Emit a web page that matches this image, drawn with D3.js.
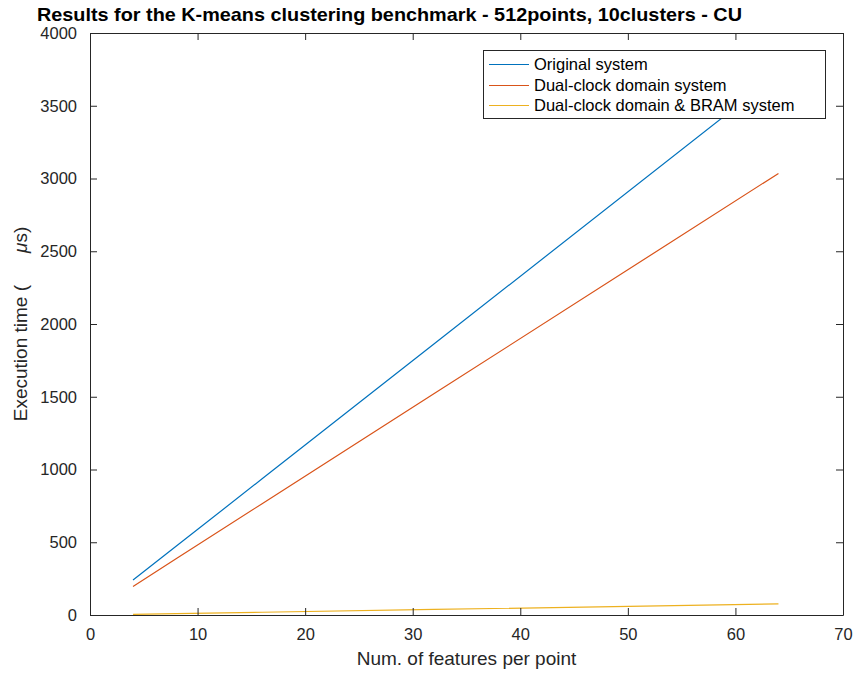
<!DOCTYPE html>
<html><head><meta charset="utf-8">
<script src="https://cdn.jsdelivr.net/npm/d3@7"></script>
<style>body{margin:0;background:#fff}svg{display:block}text{font-family:"Liberation Sans",Arial,sans-serif}</style>
</head><body>
<svg id="c" width="856" height="675"></svg>
<script>
const features = [4, 8, 16, 32, 64];
const originalSys = [240, 472, 936, 1864, 3720];
const dualClockSys = [196, 386, 765, 1522, 3035];
const dualBramSys = [4, 9, 19, 38, 76];
const seriesNames = ["Original system", "Dual-clock domain system", "Dual-clock domain & BRAM system"];
const xTicks = [0, 10, 20, 30, 40, 50, 60, 70];
const yTicks = [0, 500, 1000, 1500, 2000, 2500, 3000, 3500, 4000];
const colors = ["#0072BD", "#D95319", "#EDB120"];

const svg = d3.select("#c");
const L = 90, R = 843, T = 33, B = 615;
const x = d3.scaleLinear().domain([0, 70]).range([L, R]);
const y = d3.scaleLinear().domain([0, 4000]).range([B, T]);
const axisCol = "#262626";

const allSeries = [originalSys, dualClockSys, dualBramSys];
const line = d3.line().x((d, i) => x(features[i])).y(d => y(d));
const g = svg.append("g");
allSeries.forEach((s, k) => {
  g.append("path").datum(s).attr("d", line).attr("fill", "none")
    .attr("stroke", colors[k]).attr("stroke-width", 1.2);
});

const tk = 7;
const axB = svg.append("g").attr("transform", `translate(0,${B})`)
  .call(d3.axisBottom(x).tickValues(xTicks).tickSizeInner(-tk).tickSizeOuter(0).tickPadding(13));
const axL = svg.append("g").attr("transform", `translate(${L},0)`)
  .call(d3.axisLeft(y).tickValues(yTicks).tickFormat(d3.format("d")).tickSizeInner(-tk).tickSizeOuter(0).tickPadding(13));
const axT = svg.append("g").attr("transform", `translate(0,${T})`)
  .call(d3.axisTop(x).tickValues(xTicks).tickSizeInner(-tk).tickSizeOuter(0).tickFormat(""));
const axR = svg.append("g").attr("transform", `translate(${R},0)`)
  .call(d3.axisRight(y).tickValues(yTicks).tickSizeInner(-tk).tickSizeOuter(0).tickFormat(""));
[axB, axL, axT, axR].forEach(a => {
  a.selectAll("path").attr("stroke", axisCol).attr("stroke-width", 1);
  a.selectAll("line").attr("stroke", axisCol).attr("stroke-width", 1);
  a.selectAll("text").attr("fill", axisCol).style("font-size", "16.5px").style("font-family", "'Liberation Sans',Arial,sans-serif");
});

svg.append("text").attr("x", 37).attr("y", 21).attr("font-weight", "bold")
  .style("font-size", "18.5px").attr("fill", "#000")
  .attr("textLength", 705).attr("lengthAdjust", "spacingAndGlyphs")
  .text("Results for the K-means clustering benchmark - 512points, 10clusters - CU");

svg.append("text").attr("x", (L + R) / 2).attr("y", 665).attr("text-anchor", "middle")
  .style("font-size", "19px").attr("fill", axisCol).text("Num. of features per point");

const yl = svg.append("text").attr("transform", `translate(27,${(T + B) / 2}) rotate(-90)`)
  .attr("text-anchor", "middle").style("font-size", "19px").attr("fill", axisCol);
yl.append("tspan").text("Execution time (");
yl.append("tspan").attr("dx", 32).attr("font-style", "italic").text("\u03bc");
yl.append("tspan").text("s)");

const lg = svg.append("g");
lg.append("rect").attr("x", 483.5).attr("y", 50.5).attr("width", 342).attr("height", 68)
  .attr("fill", "#fff").attr("stroke", axisCol).attr("stroke-width", 1);
seriesNames.forEach((n, k) => {
  const yy = Math.round(64 + k * 20.5) + 0.5;
  lg.append("line").attr("x1", 489).attr("x2", 529).attr("y1", yy).attr("y2", yy)
    .attr("stroke", colors[k]).attr("stroke-width", 1);
  lg.append("text").attr("x", 534).attr("y", yy).attr("dy", "0.35em")
    .style("font-size", "16.5px").attr("fill", "#000").text(n);
});
</script>
</body></html>
